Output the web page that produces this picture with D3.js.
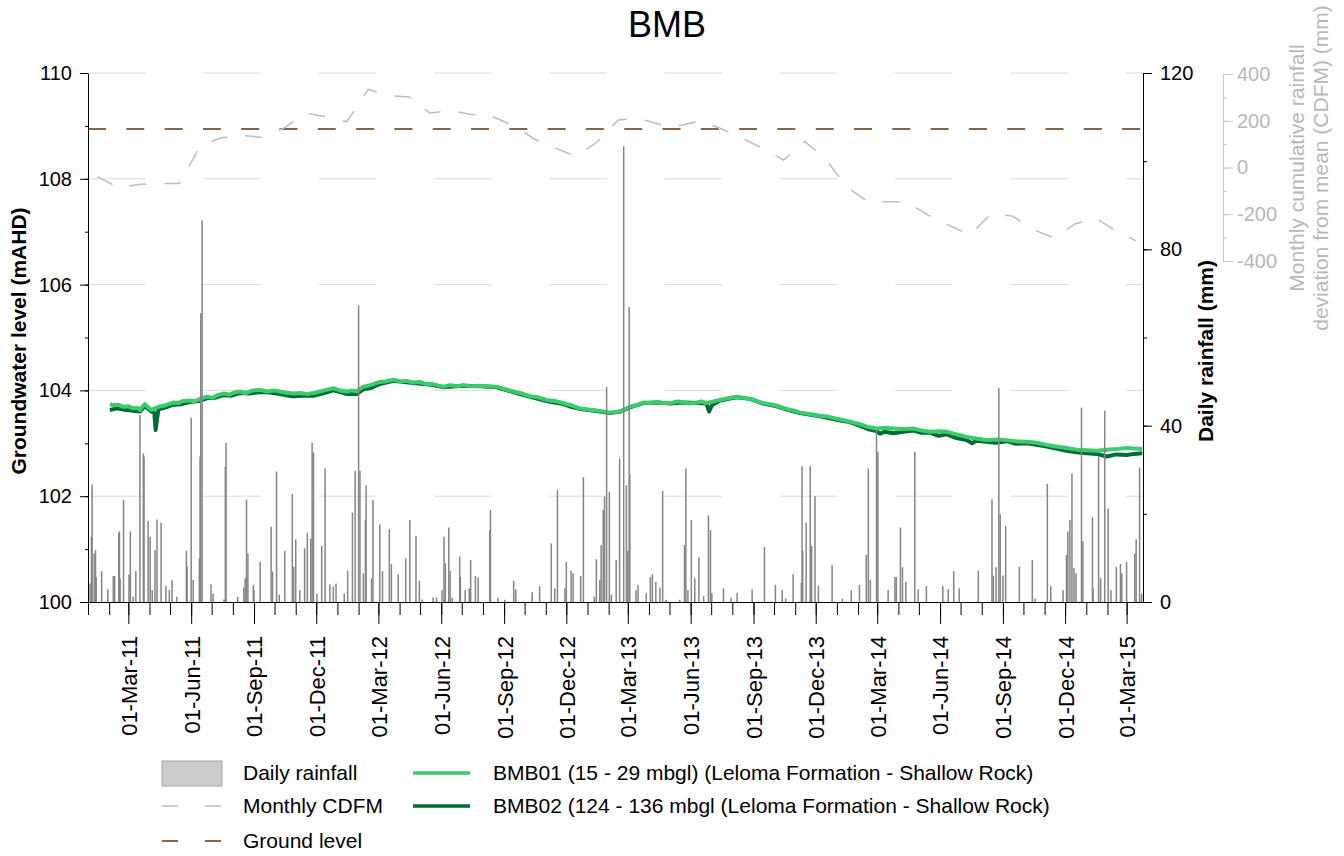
<!DOCTYPE html>
<html><head><meta charset="utf-8">
<script src="https://cdn.jsdelivr.net/npm/d3@7"></script>
<style>
body{margin:0;background:#fff}
text{font-family:"Liberation Sans",Arial,sans-serif}
</style>
</head><body>
<svg id="chart" width="1344" height="856"></svg>
<script>
// ---------------- data ----------------
const chartTitle = "BMB";
const xDomain = ["2011-01-01", "2015-03-25"];
const groundLevel = 108.94;

const rainDates = [
"2011-01-04","2011-01-06","2011-01-07","2011-01-10","2011-01-12","2011-01-13","2011-01-21","2011-01-30",
"2011-02-07","2011-02-09","2011-02-15","2011-02-16","2011-02-17","2011-02-22","2011-03-02","2011-03-04",
"2011-03-08","2011-03-12","2011-03-18","2011-03-23","2011-03-24","2011-03-30","2011-04-02","2011-04-05",
"2011-04-09","2011-04-12","2011-04-18","2011-04-25","2011-04-30","2011-05-04","2011-05-11","2011-05-25",
"2011-05-26","2011-06-01","2011-06-04","2011-06-13","2011-06-14","2011-06-15","2011-06-17","2011-06-30",
"2011-07-03","2011-07-19","2011-07-21","2011-07-22","2011-08-08","2011-08-17","2011-08-19","2011-08-21",
"2011-08-23","2011-08-31","2011-09-01","2011-09-10","2011-09-26","2011-09-28","2011-10-04","2011-10-08",
"2011-10-16","2011-10-27","2011-10-29","2011-11-01","2011-11-07","2011-11-14","2011-11-18","2011-11-23",
"2011-11-25","2011-11-27","2011-12-02","2011-12-09","2011-12-14","2011-12-21","2011-12-26","2011-12-30",
"2012-01-11","2012-01-16","2012-01-23","2012-01-27","2012-02-01","2012-02-03","2012-02-08","2012-02-11",
"2012-02-12","2012-02-20","2012-02-22","2012-03-03","2012-03-07","2012-03-17","2012-03-20","2012-03-30",
"2012-04-10","2012-04-16","2012-04-25","2012-04-30","2012-05-04","2012-05-20","2012-05-25","2012-06-02",
"2012-06-05","2012-06-07","2012-06-12","2012-06-14","2012-06-17","2012-06-28","2012-06-29","2012-07-06",
"2012-07-12","2012-07-14","2012-07-21","2012-07-25","2012-08-11","2012-08-12","2012-08-23","2012-09-02",
"2012-09-15","2012-09-18","2012-10-12","2012-10-23","2012-11-09","2012-11-14","2012-11-18","2012-11-29",
"2012-12-01","2012-12-08","2012-12-11","2012-12-22","2012-12-26","2013-01-11","2013-01-14","2013-01-19",
"2013-01-21","2013-01-24","2013-01-26","2013-01-29","2013-02-02","2013-02-05","2013-02-12","2013-02-17",
"2013-02-23","2013-02-27","2013-03-01","2013-03-03","2013-03-04","2013-03-13","2013-03-16","2013-03-28",
"2013-04-03","2013-04-06","2013-04-11","2013-04-17","2013-04-21","2013-04-26","2013-05-16","2013-05-23",
"2013-05-25","2013-05-28","2013-06-02","2013-06-07","2013-06-13","2013-06-20","2013-06-27","2013-06-30",
"2013-07-02","2013-07-19","2013-07-30","2013-08-08","2013-08-30","2013-09-17","2013-10-03","2013-10-13",
"2013-10-18","2013-10-29","2013-11-10","2013-11-11","2013-11-12","2013-11-17","2013-11-23","2013-11-25",
"2013-11-30","2013-12-05","2013-12-25","2014-01-09","2014-01-22","2014-02-03","2014-02-13","2014-02-16",
"2014-02-19","2014-02-28","2014-03-02","2014-03-17","2014-03-27","2014-03-29","2014-04-04","2014-04-07",
"2014-04-12","2014-04-25","2014-04-30","2014-05-12","2014-06-05","2014-06-13","2014-06-21","2014-06-29",
"2014-07-27","2014-08-16","2014-08-18","2014-08-22","2014-08-26","2014-08-28","2014-09-01","2014-09-05",
"2014-09-25","2014-10-14","2014-10-18","2014-11-05","2014-11-10","2014-11-28","2014-12-03","2014-12-05",
"2014-12-08","2014-12-11","2014-12-14","2014-12-17","2014-12-25","2014-12-27","2015-01-10","2015-01-11",
"2015-01-19","2015-01-22","2015-01-28","2015-02-02","2015-02-06","2015-02-14","2015-02-20","2015-02-22",
"2015-03-01","2015-03-13","2015-03-15","2015-03-20","2015-03-23"
];
const rainMm = [
4.2,14.8,26.7,11,11.8,5.7,7,2.9,
5.9,5.9,15.7,16,5.2,23.1,6.3,16,
1.2,7,42.4,33.7,33,18.4,14.8,2.7,
11.8,18.7,18,3.7,2.7,5,1.2,11.6,
8,41.8,5,9.9,33,65.5,86.6,4,
1.9,0.6,30.7,36.1,1.2,3.3,5.4,23.2,
11,3.9,2.7,9.1,17.1,6.9,29.6,1.6,
11.6,24.5,8,14.2,2.7,12.2,15.7,14.4,
36.1,33.9,1.9,12.7,30.3,4,3.5,4.2,
1.9,7.1,20.3,29.8,67.3,29.8,6.5,18.6,
26.5,5.4,23.1,17.6,7,16.5,8.6,6.3,
9.9,18.6,15,4.8,0.6,1,1,2.7,
14.8,8.8,16.9,7,1,10.3,5.7,2.7,
3.1,9.5,5.9,5.6,16.3,20.9,1,0.5,
4.8,2.9,2.2,3.6,13.3,3.1,25.4,3.1,
9.1,7.1,6.5,5.9,28.3,1.2,9.7,5,
12.9,20.9,23.9,48.8,25,1.6,9.5,32.6,
103.4,26.5,11.6,66.9,29,2.7,3.9,2,
5.7,6.3,4.6,3.3,25.2,0.5,0.5,12.9,
30.3,2.7,18.6,5.4,10.1,1.4,19.7,16.3,
2,3.1,1,2.1,2.9,12.5,3.9,2.7,
0.8,6.3,4.4,30.8,11.6,18,30.8,12.7,
24,3.7,8.4,0.7,2.7,3.9,10.7,30.3,
5,39,34.1,2.7,5.7,5.7,16.9,7.9,
4.6,34.1,2.9,3.6,3.6,2.9,7,3.1,
7.1,23.3,6,7.9,48.5,20,6,17.2,
8,9.5,0.8,26.8,3.6,2.7,10.7,16,
18.6,29.2,7.7,6.5,44.1,13.8,19.2,3.1,
33,5.4,43.4,21.2,2.7,8,8.6,6.5,
9.1,11,14.2,30.5,1.9
];

const cdfmDates = [
"2011-01-15","2011-02-15","2011-03-15","2011-04-15","2011-05-15","2011-06-15","2011-07-15","2011-08-15",
"2011-09-15","2011-10-15","2011-11-15","2011-12-15","2012-01-15","2012-02-15","2012-03-15","2012-04-15",
"2012-05-15","2012-06-15","2012-07-15","2012-08-15","2012-09-15","2012-10-15","2012-11-15","2012-12-15",
"2013-01-15","2013-02-15","2013-03-15","2013-04-15","2013-05-15","2013-06-15","2013-07-15","2013-08-15",
"2013-09-15","2013-10-15","2013-11-15","2013-12-15","2014-01-15","2014-02-15","2014-03-15","2014-04-15",
"2014-05-15","2014-06-15","2014-07-15","2014-08-15","2014-09-15","2014-10-15","2014-11-15","2014-12-15",
"2015-01-15","2015-02-15","2015-03-15"
];
const cdfmMm = [
-39,-88,-73,-68,-68,96,127,137,
128,169,232,218,196,334,308,302,
233,244,227,218,179,122,83,47,
109,203,211,186,179,199,167,126,
81,32,111,38,-83,-146,-146,-149,
-205,-248,-289,-196,-208,-265,-302,-242,
-217,-274,-314
];

const bmb01Dates = [
"2011-02-02","2011-02-08","2011-02-14","2011-02-22","2011-03-01","2011-03-08","2011-03-14","2011-03-18",
"2011-03-22","2011-03-25","2011-03-30","2011-04-04","2011-04-09","2011-04-14","2011-04-22","2011-04-29",
"2011-05-06","2011-05-13","2011-05-20","2011-05-30","2011-06-06","2011-06-14","2011-06-24","2011-07-02",
"2011-07-10","2011-07-18","2011-07-27","2011-08-03","2011-08-11","2011-08-20","2011-08-30","2011-09-10",
"2011-09-20","2011-09-30","2011-10-09","2011-10-18","2011-10-28","2011-11-08","2011-11-18","2011-11-27",
"2011-12-06","2011-12-16","2011-12-26","2012-01-05","2012-01-15","2012-01-22","2012-01-29","2012-02-08",
"2012-02-18","2012-03-03","2012-03-12","2012-03-23","2012-04-02","2012-04-11","2012-04-21","2012-05-01",
"2012-05-10","2012-05-20","2012-05-28","2012-06-04","2012-06-14","2012-06-24","2012-07-03","2012-07-14",
"2012-07-28","2012-08-08","2012-08-21","2012-09-01","2012-09-14","2012-09-25","2012-10-09","2012-10-20",
"2012-11-02","2012-11-14","2012-11-27","2012-12-08","2012-12-21","2013-01-02","2013-01-14","2013-01-24",
"2013-02-03","2013-02-10","2013-02-18","2013-02-26","2013-03-04","2013-03-14","2013-03-24","2013-04-03",
"2013-04-12","2013-04-22","2013-05-02","2013-05-12","2013-05-21","2013-05-30","2013-06-10","2013-06-17",
"2013-06-24","2013-07-04","2013-07-14","2013-07-25","2013-08-07","2013-08-17","2013-08-27","2013-09-05",
"2013-09-15","2013-09-25","2013-10-05","2013-10-14","2013-10-22","2013-11-01","2013-11-08","2013-11-20",
"2013-12-07","2013-12-20","2014-01-06","2014-01-20","2014-02-04","2014-02-15","2014-02-28","2014-03-12",
"2014-03-25","2014-04-08","2014-04-23","2014-05-05","2014-05-17","2014-05-30","2014-06-11","2014-06-25",
"2014-07-10","2014-07-24","2014-08-08","2014-08-22","2014-09-06","2014-09-20","2014-10-06","2014-10-20",
"2014-11-04","2014-11-18","2014-12-03","2014-12-18","2015-01-02","2015-01-16","2015-01-31","2015-02-14",
"2015-03-01","2015-03-12","2015-03-24"
];
const bmb01Level = [
103.74,103.72,103.73,103.69,103.70,103.66,103.67,103.63,
103.70,103.74,103.68,103.63,103.66,103.69,103.71,103.74,
103.77,103.76,103.80,103.81,103.79,103.84,103.88,103.86,
103.91,103.94,103.92,103.96,103.98,103.95,104.00,104.01,
103.98,104.00,103.98,103.96,103.94,103.95,103.93,103.95,
103.98,104.01,104.04,104.00,103.98,104.00,103.98,104.07,
104.10,104.16,104.17,104.20,104.17,104.18,104.15,104.16,
104.12,104.12,104.09,104.07,104.10,104.08,104.10,104.08,
104.09,104.08,104.07,104.03,103.98,103.95,103.89,103.87,
103.82,103.80,103.76,103.72,103.66,103.64,103.62,103.60,
103.58,103.59,103.60,103.65,103.69,103.72,103.77,103.76,
103.78,103.76,103.76,103.79,103.78,103.75,103.77,103.79,
103.76,103.79,103.82,103.85,103.88,103.86,103.84,103.80,
103.76,103.74,103.71,103.67,103.64,103.61,103.58,103.56,
103.52,103.50,103.45,103.41,103.36,103.31,103.28,103.29,
103.28,103.27,103.28,103.24,103.22,103.23,103.22,103.17,
103.12,103.09,103.06,103.07,103.06,103.04,103.03,103.01,
102.97,102.94,102.91,102.88,102.87,102.86,102.88,102.89,
102.91,102.90,102.89
];

const bmb02Dates = [
"2011-02-02","2011-02-12","2011-02-22","2011-03-05","2011-03-18","2011-03-25","2011-04-04","2011-04-08",
"2011-04-10","2011-04-12","2011-04-14","2011-04-25","2011-05-06","2011-05-18","2011-05-30","2011-06-12",
"2011-06-24","2011-07-06","2011-07-18","2011-07-30","2011-08-11","2011-08-25","2011-09-10","2011-09-25",
"2011-10-09","2011-10-18","2011-10-28","2011-11-12","2011-11-27","2011-12-10","2011-12-26","2012-01-08",
"2012-01-15","2012-01-29","2012-02-08","2012-02-20","2012-03-03","2012-03-23","2012-04-21","2012-05-20",
"2012-06-04","2012-07-03","2012-07-28","2012-08-21","2012-09-14","2012-10-09","2012-11-02","2012-11-14",
"2012-11-27","2012-12-08","2012-12-21","2013-01-14","2013-02-03","2013-02-18","2013-03-04","2013-03-24",
"2013-04-12","2013-05-02","2013-05-21","2013-06-10","2013-06-24","2013-06-28","2013-07-02","2013-07-14",
"2013-08-07","2013-08-27","2013-09-15","2013-10-05","2013-10-22","2013-11-08","2013-12-07","2014-01-06",
"2014-01-20","2014-02-04","2014-02-15","2014-02-28","2014-03-05","2014-03-12","2014-03-25","2014-04-08",
"2014-04-23","2014-05-05","2014-05-17","2014-05-30","2014-06-11","2014-06-25","2014-07-10","2014-07-18",
"2014-07-24","2014-08-08","2014-08-22","2014-09-06","2014-09-20","2014-10-06","2014-10-20","2014-11-04",
"2014-11-18","2014-12-03","2014-12-18","2015-01-02","2015-01-16","2015-01-31","2015-02-14","2015-03-01",
"2015-03-12","2015-03-24"
];
const bmb02Level = [
103.63,103.66,103.64,103.62,103.60,103.70,103.60,103.58,
103.25,103.45,103.64,103.68,103.73,103.74,103.78,103.80,
103.85,103.86,103.91,103.90,103.95,103.94,103.97,103.96,
103.93,103.91,103.89,103.90,103.90,103.94,104.00,103.96,
103.93,103.93,104.02,104.05,104.12,104.18,104.14,104.10,
104.06,104.09,104.08,104.06,103.97,103.88,103.80,103.77,
103.74,103.69,103.65,103.61,103.57,103.60,103.68,103.76,
103.77,103.75,103.77,103.76,103.75,103.60,103.72,103.81,
103.87,103.84,103.75,103.70,103.63,103.57,103.51,103.43,
103.40,103.33,103.27,103.23,103.18,103.22,103.19,103.22,
103.24,103.20,103.20,103.14,103.17,103.10,103.06,103.00,
103.05,103.03,103.01,103.04,102.99,103.00,102.97,102.94,
102.90,102.86,102.83,102.81,102.80,102.75,102.79,102.78,
102.80,102.81
];

const leftTicks = [100,102,104,106,108,110];
const rightTicks = [0,40,80,120];
const cdfmTicks = [-400,-200,0,200,400];
const legendLabels = ["Daily rainfall","Monthly CDFM","Ground level",
  "BMB01 (15 - 29 mbgl) (Leloma Formation - Shallow Rock)",
  "BMB02 (124 - 136 mbgl (Leloma Formation - Shallow Rock)"];

// ---------------- drawing ----------------
const parse = d3.utcParse("%Y-%m-%d");
const svg = d3.select("#chart");
const L = 88, R = 1143, T = 73, B = 602;

const x = d3.scaleUtc().domain(xDomain.map(parse)).range([L, R]);
const yL = d3.scaleLinear().domain([100,110]).range([B, T]);
const yR = d3.scaleLinear().domain([0,120]).range([B, T]);
const yC = d3.scaleLinear().domain([-400,400]).range([261, 74]);

const C1 = "#3ccb6c", C2 = "#006b35", RAIN = "#858585", CDFM = "#bdbdbd", GROUND = "#5e3309";

// gridlines
svg.append("g").selectAll("line").data(leftTicks.filter(d => d > 100)).join("line")
  .attr("x1", L).attr("x2", R).attr("y1", d => yL(d)).attr("y2", d => yL(d))
  .attr("stroke", "#dadada").attr("stroke-width", 1).attr("stroke-dasharray", "57.6,57.7");

// ground level
svg.append("line").attr("x1", L).attr("x2", R).attr("y1", yL(groundLevel)).attr("y2", yL(groundLevel))
  .attr("stroke", GROUND).attr("stroke-width", 1.5).attr("stroke-dasharray", "18,20.3");

// CDFM
const cdfm = cdfmDates.map((d,i) => ({d: parse(d), v: cdfmMm[i]}));
svg.append("path").datum(cdfm)
  .attr("d", d3.line().x(p => x(p.d)).y(p => yC(p.v)))
  .attr("fill", "none").attr("stroke", CDFM).attr("stroke-width", 1.5).attr("stroke-dasharray", "17,18");

// groundwater lines
const s2 = bmb02Dates.map((d,i) => ({d: parse(d), v: bmb02Level[i]}));
const s1 = bmb01Dates.map((d,i) => ({d: parse(d), v: bmb01Level[i]}));
const gl = d3.line().x(p => x(p.d)).y(p => yL(p.v));
svg.append("path").datum(s2).attr("d", gl).attr("fill","none").attr("stroke", C2).attr("stroke-width", 4).attr("stroke-linejoin","round");
svg.append("path").datum(s1).attr("d", gl).attr("fill","none").attr("stroke", C1).attr("stroke-width", 4).attr("stroke-linejoin","round");

// rain bars
const rain = rainDates.map((d,i) => ({d: parse(d), v: rainMm[i]}));
svg.append("g").selectAll("rect").data(rain).join("rect")
  .attr("x", p => x(p.d) - 0.75).attr("width", 1.5)
  .attr("y", p => yR(p.v)).attr("height", p => B - yR(p.v))
  .attr("fill", RAIN);

// axes
const fontTick = "20px";
svg.append("g").attr("transform", `translate(${L},0)`)
  .call(d3.axisLeft(yL).tickValues(d3.range(100,111,1)).tickSize(3).tickFormat("").tickSizeOuter(0))
  .call(g => g.select(".domain").remove());
svg.append("g").attr("transform", `translate(${L},0)`)
  .call(d3.axisLeft(yL).tickValues(leftTicks).tickSize(8).tickPadding(8).tickSizeOuter(0))
  .call(g => g.selectAll("text").attr("font-size", fontTick).attr("fill","#000"));
svg.append("g").attr("transform", `translate(${R},0)`)
  .call(d3.axisRight(yR).tickValues(d3.range(0,121,20)).tickSize(4).tickFormat("").tickSizeOuter(0))
  .call(g => g.select(".domain").remove());
svg.append("g").attr("transform", `translate(${R},0)`)
  .call(d3.axisRight(yR).tickValues(rightTicks).tickSize(9).tickPadding(8).tickSizeOuter(0))
  .call(g => g.selectAll("text").attr("font-size", fontTick).attr("fill","#000"));
const cx = 1223;
svg.append("g").attr("transform", `translate(${cx},0)`)
  .call(d3.axisRight(yC).tickValues(d3.range(-400,401,100)).tickSize(4).tickFormat("").tickSizeOuter(0))
  .call(g => g.select(".domain").remove())
  .call(g => g.selectAll("line").attr("stroke", "#c8c8c8"));
svg.append("g").attr("transform", `translate(${cx},0)`)
  .call(d3.axisRight(yC).tickValues(cdfmTicks).tickSize(10).tickPadding(4).tickSizeOuter(0).tickFormat(d => String(d)))
  .call(g => g.select(".domain").attr("stroke", "#c8c8c8"))
  .call(g => g.selectAll("line").attr("stroke", "#c8c8c8"))
  .call(g => g.selectAll("text").attr("font-size", fontTick).attr("fill","#b8b8b8"));

const months = d3.utcMonth.range(x.domain()[0], d3.utcDay.offset(x.domain()[1], 1));
const majors = months.filter(m => [2,5,8,11].includes(m.getUTCMonth()));
svg.append("g").attr("transform", `translate(0,${B})`)
  .call(d3.axisBottom(x).tickValues(months).tickSize(13).tickFormat("").tickSizeOuter(0));
svg.append("g").attr("transform", `translate(0,${B})`)
  .call(d3.axisBottom(x).tickValues(majors).tickSize(22).tickFormat(d3.utcFormat("%d-%b-%y")).tickSizeOuter(0))
  .call(g => g.select(".domain").remove())
  .call(g => g.selectAll("text")
    .attr("font-size", "22px").attr("fill","#000")
    .attr("transform", "rotate(-90)").attr("text-anchor", "end")
    .attr("x", -34).attr("y", 0).attr("dy", "0.36em"));

// titles
svg.append("text").attr("x", 667).attr("y", 37).attr("text-anchor","middle")
  .attr("font-size","36px").text(chartTitle);
svg.append("text").attr("transform", "translate(26,341) rotate(-90)").attr("text-anchor","middle")
  .attr("font-size","21px").attr("font-weight","bold").text("Groundwater level (mAHD)");
svg.append("text").attr("transform", "translate(1213,351) rotate(-90)").attr("text-anchor","middle")
  .attr("font-size","21px").attr("font-weight","bold").text("Daily rainfall (mm)");
svg.append("text").attr("transform", "translate(1304,168) rotate(-90)").attr("text-anchor","middle")
  .attr("font-size","21px").attr("fill","#b8b8b8").text("Monthly cumulative rainfall");
svg.append("text").attr("transform", "translate(1328,168) rotate(-90)").attr("text-anchor","middle")
  .attr("font-size","21px").attr("fill","#b8b8b8").text("deviation from mean (CDFM) (mm)");

// legend
const lg = svg.append("g").attr("font-size","21px");
lg.append("rect").attr("x",162).attr("y",761).attr("width",60).attr("height",25)
  .attr("fill","#cccccc").attr("stroke","#a6a6a6").attr("stroke-width",1);
lg.append("line").attr("x1",162).attr("x2",222).attr("y1",806).attr("y2",806)
  .attr("stroke",CDFM).attr("stroke-width",1.5).attr("stroke-dasharray","16,27");
lg.append("line").attr("x1",162).attr("x2",222).attr("y1",841).attr("y2",841)
  .attr("stroke",GROUND).attr("stroke-width",1.5).attr("stroke-dasharray","16,27");
lg.append("line").attr("x1",413).attr("x2",470).attr("y1",773).attr("y2",773)
  .attr("stroke",C1).attr("stroke-width",3.5);
lg.append("line").attr("x1",413).attr("x2",470).attr("y1",806).attr("y2",806)
  .attr("stroke",C2).attr("stroke-width",3.5);
const lpos = [[243,773],[243,806],[243,841],[493,773],[493,806]];
lg.selectAll("text.l").data(legendLabels).join("text").attr("class","l")
  .attr("x",(d,i)=>lpos[i][0]).attr("y",(d,i)=>lpos[i][1]).attr("dy","0.35em").text(d=>d);
</script>
</body></html>
